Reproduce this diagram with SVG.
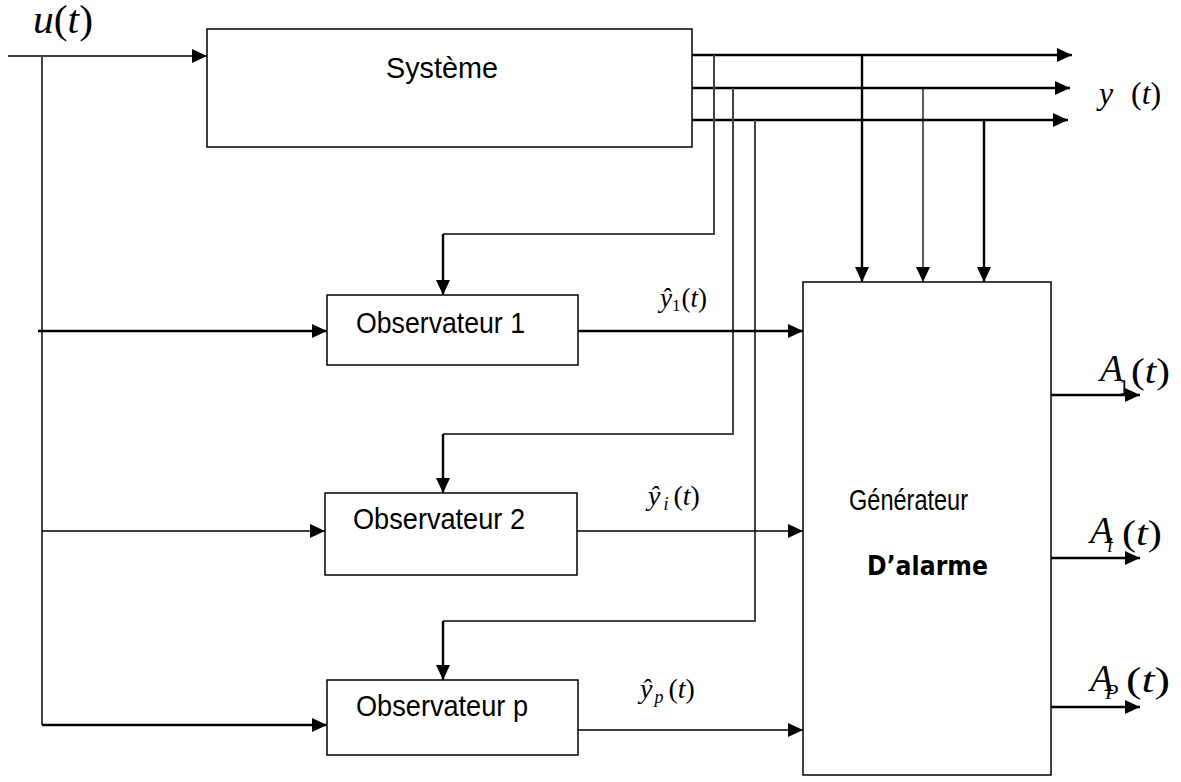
<svg xmlns="http://www.w3.org/2000/svg" width="1181" height="782" viewBox="0 0 1181 782">
  <style>
    .box { fill: #fff; stroke: #000; stroke-width: 1.5; }
    .lbl { font-family: "Liberation Sans", Arial, sans-serif; font-size: 29px; fill: #000; }
    .bold { font-family: "DejaVu Sans", "Liberation Sans", sans-serif; font-weight: bold; font-size: 26px; }
    .math { font-family: "Liberation Serif", "Times New Roman", serif; font-style: italic; fill: #000; }
    .up { font-style: normal; }
    .w { fill: none; stroke: #000; stroke-width: 1.3; }
    .wt { fill: none; stroke: #000; stroke-width: 2.4; }
    .wg { fill: none; stroke: #444; stroke-width: 2; }
    .arr { marker-end: url(#ah); }
  </style>
  <defs>
    <marker id="ah" markerUnits="userSpaceOnUse" markerWidth="16" markerHeight="14" refX="15" refY="7" orient="auto">
      <path d="M0,0 L15,7 L0,14 Z" fill="#000"/>
    </marker>
  </defs>

  <!-- connectors -->
  <g id="connectors">
    <!-- input u(t) -->
    <path class="w arr" d="M8,56 H207"/>
    <path class="wg" d="M42,56 V725"/>
    <path class="wt arr" d="M38,331 H327"/>
    <path class="w arr" d="M42,531 H325"/>
    <path class="wt arr" d="M42,725 H327"/>

    <!-- system outputs y(t) -->
    <path class="wt arr" d="M692,55 H1072"/>
    <path class="wt arr" d="M692,88 H1070"/>
    <path class="wt arr" d="M690,120 H1068"/>

    <!-- feedback of outputs to the observers -->
    <path class="wg" d="M714,55 V234 H443"/>
    <path class="wt arr" d="M443,234 V295"/>
    <path class="wg" d="M733,88 V434 H443"/>
    <path class="wt arr" d="M443,434 V493"/>
    <path class="wg" d="M755,120 V621 H443"/>
    <path class="wt arr" d="M443,621 V680"/>

    <!-- outputs to the alarm generator -->
    <path class="wt arr" d="M862,55 V282"/>
    <path class="w arr" d="M923,88 V282"/>
    <path class="wt arr" d="M984,120 V282"/>

    <!-- estimated outputs -->
    <path class="wt arr" d="M578,331 H803"/>
    <path class="w arr" d="M577,531 H803"/>
    <path class="w arr" d="M576,730 H803"/>

    <!-- alarms -->
    <path class="wt arr" d="M1051,395 H1140"/>
    <path class="wt arr" d="M1051,558 H1140"/>
    <path class="wt arr" d="M1051,707 H1140"/>
  </g>

  <g id="systeme">
    <rect class="box" x="207" y="29" width="485" height="118"/>
    <text class="lbl" x="386" y="78" textLength="112" lengthAdjust="spacingAndGlyphs">Système</text>
  </g>

  <g id="observateur1">
    <rect class="box" x="327" y="295" width="251" height="70"/>
    <text class="lbl" x="356" y="333" textLength="169" lengthAdjust="spacingAndGlyphs">Observateur 1</text>
  </g>

  <g id="observateur2">
    <rect class="box" x="325" y="493" width="252" height="82"/>
    <text class="lbl" x="353" y="529" textLength="172" lengthAdjust="spacingAndGlyphs">Observateur 2</text>
  </g>

  <g id="observateurp">
    <rect class="box" x="327" y="680" width="251" height="75"/>
    <text class="lbl" x="356" y="716" textLength="172" lengthAdjust="spacingAndGlyphs">Observateur p</text>
  </g>

  <g id="generateur">
    <rect class="box" x="803" y="282" width="248" height="493"/>
    <text class="lbl" x="849" y="510" font-size="26" textLength="119" lengthAdjust="spacingAndGlyphs">Générateur</text>
    <text class="lbl bold" x="867" y="575" textLength="121" lengthAdjust="spacingAndGlyphs">D’alarme</text>
  </g>

  <!-- signal labels -->
  <g id="labels">
    <text class="math" x="33" y="33" font-size="39" textLength="60" lengthAdjust="spacingAndGlyphs">u<tspan class="up">(</tspan>t<tspan class="up">)</tspan></text>
    <text class="math" x="1099" y="104" font-size="32">y<tspan class="up" x="1131">(</tspan>t<tspan class="up">)</tspan></text>

    <text class="math" x="660" y="307" font-size="27">ŷ<tspan class="up" font-size="17" dy="4">1</tspan><tspan class="up" dy="-4" dx="1">(</tspan>t<tspan class="up">)</tspan></text>
    <text class="math" x="648" y="505" font-size="28">ŷ<tspan font-size="18" dy="5" dx="3">i</tspan><tspan class="up" dy="-5" dx="5">(</tspan>t<tspan class="up">)</tspan></text>
    <text class="math" x="640" y="698" font-size="28">ŷ<tspan font-size="18" dy="5" dx="2">p</tspan><tspan class="up" dy="-5" dx="5">(</tspan>t<tspan class="up">)</tspan></text>

    <text class="math" x="1100" y="381" font-size="38">A</text>
    <text class="math up" x="1119" y="394" font-size="20">1</text>
    <text class="math" x="1131" y="383" font-size="36" textLength="39" lengthAdjust="spacingAndGlyphs"><tspan class="up">(</tspan>t<tspan class="up">)</tspan></text>

    <text class="math" x="1090" y="543" font-size="38">A</text>
    <text class="math" x="1107" y="552" font-size="21">i</text>
    <text class="math" x="1122" y="545" font-size="36" textLength="40" lengthAdjust="spacingAndGlyphs"><tspan class="up">(</tspan>t<tspan class="up">)</tspan></text>

    <text class="math" x="1090" y="691" font-size="38">A</text>
    <text class="math" x="1105" y="699" font-size="22">P</text>
    <text class="math" x="1126" y="692" font-size="36" textLength="44" lengthAdjust="spacingAndGlyphs"><tspan class="up">(</tspan>t<tspan class="up">)</tspan></text>
  </g>
</svg>
